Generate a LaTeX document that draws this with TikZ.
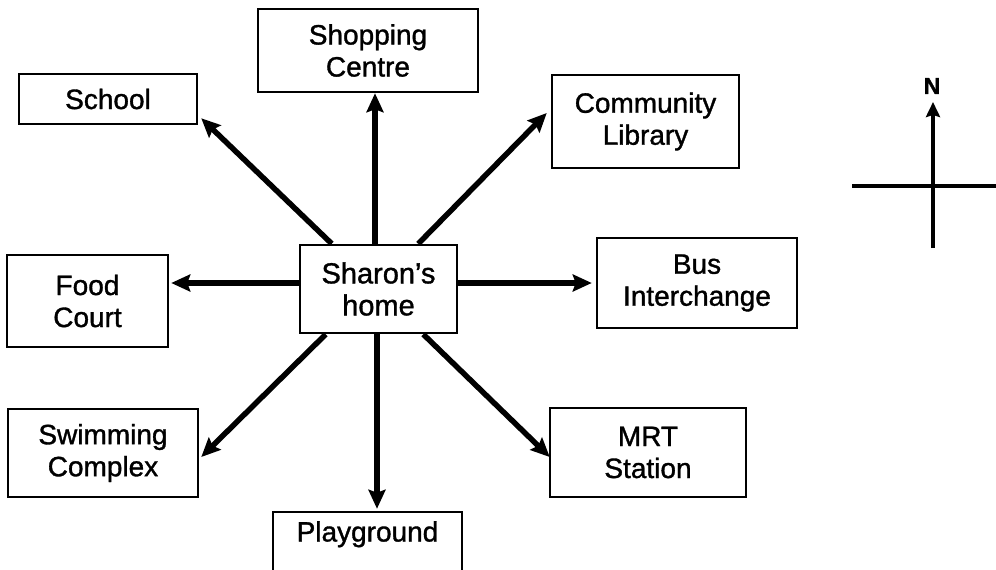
\documentclass[tikz,border=0pt]{standalone}
\usepackage{fontspec}
\setmainfont{Liberation Sans}[FakeBold=1.2]
\usetikzlibrary{arrows.meta}
\begin{document}
\begin{tikzpicture}[x=1pt,y=-1pt,
  place/.style={draw=black, line width=2.5pt, rectangle, align=center, inner sep=0pt,
    font=\fontsize{28}{32}\selectfont},
  link/.style={line width=5.5pt, -{Stealth[length=19pt,width=17pt,inset=3pt]}},
  compassline/.style={line width=4pt}]
\useasboundingbox[fill=white] (0,0) rectangle (996,570);
\node[place, minimum width=220pt, minimum height=83pt] (shop) at (368,50.5) {Shopping\\Centre};
\node[place, minimum width=178pt, minimum height=50pt] (school) at (108,99) {School};
\node[place, minimum width=187pt, minimum height=93pt] (lib) at (645.5,121.5) {Community\\Library};
\node[place, minimum width=161pt, minimum height=92pt] (food) at (87.5,301) {Food\\Court};
\node[place, minimum width=157pt, minimum height=88pt, font=\fontsize{29}{32}\selectfont] (home) at (378.5,289) {Sharon’s\\home};
\node[place, minimum width=200pt, minimum height=90pt] (bus) at (697,283) {Bus\\Interchange};
\node[place, minimum width=190pt, minimum height=88pt] (swim) at (103,453) {Swimming\\Complex};
\node[place, minimum width=196pt, minimum height=89pt] (mrt) at (648,452.5) {MRT\\Station};
\node[place, minimum width=189pt, minimum height=59pt, text height=20pt, text depth=20pt] (play) at (367.5,541.5) {Playground};
% connectors
\draw[link] ([xshift=-3.5pt]home.north) -- ([xshift=7pt]shop.south);
\draw[link] ([xshift=33pt]home.north west) -- ([xshift=3pt,yshift=7pt]school.south east);
\draw[link] ([xshift=-40pt]home.north east) -- ([xshift=-4pt,yshift=8.5pt]lib.west);
\draw[link] ([yshift=6pt]home.west) -- ([xshift=2pt,yshift=18pt]food.east);
\draw[link] ([yshift=6pt]home.east) -- ([xshift=-4pt]bus.west);
\draw[link] ([xshift=27pt]home.south west) -- ([xshift=2pt,yshift=-4pt]swim.east);
\draw[link] ([xshift=-1.5pt]home.south) -- ([xshift=9.5pt,yshift=2pt]play.north);
\draw[link] ([xshift=-35pt]home.south east) -- ([xshift=1pt,yshift=-4.5pt]mrt.west);
% compass
\coordinate (cbottom) at (933,248);
\coordinate (ctop) at (933,102);
\coordinate (cleft) at (852,186);
\coordinate (cright) at (996,186);
\draw[compassline, -{Stealth[length=15pt,width=14pt,inset=2pt]}] (cbottom) -- (ctop);
\draw[compassline] (cleft) -- (cright);
\node[font=\bfseries\fontsize{23}{24}\selectfont, inner sep=0pt] (north) at (932,86) {N};
\end{tikzpicture}
\end{document}
